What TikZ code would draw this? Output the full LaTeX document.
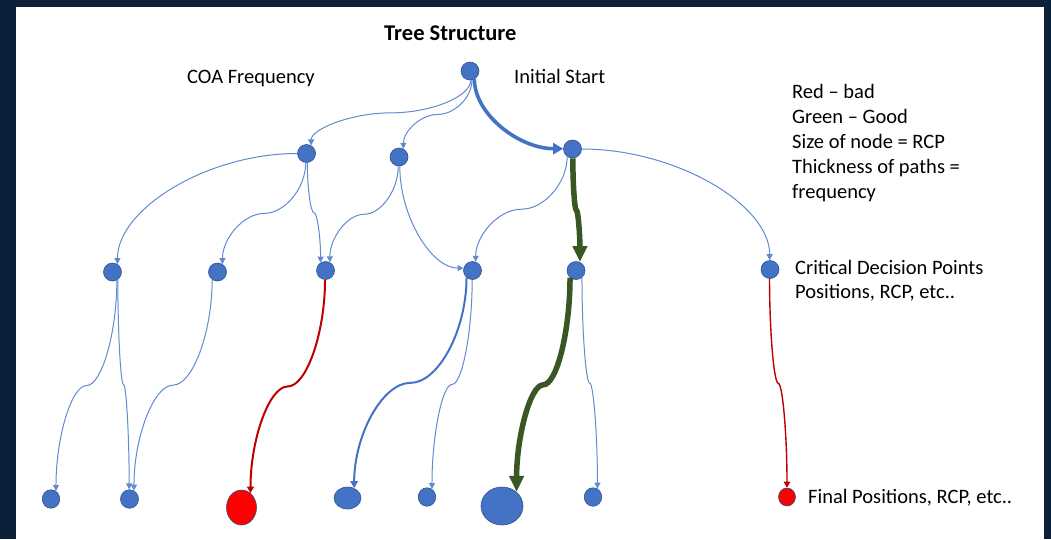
\documentclass[tikz,border=0pt]{standalone}
\usepackage{fontspec}
\setmainfont{Carlito}
\usetikzlibrary{calc,arrows.meta,shapes.geometric}

\definecolor{frame}{RGB}{12,33,57}
\definecolor{nodeblue}{RGB}{68,114,196}
\definecolor{nodeedge}{RGB}{47,82,143}
\definecolor{pathblue}{RGB}{68,114,196}
\definecolor{thinblue}{RGB}{98,138,208}
\definecolor{goodgreen}{RGB}{56,87,35}
\definecolor{badred}{RGB}{192,0,0}
\definecolor{badfill}{RGB}{255,0,0}

\tikzset{
  % S-shaped connector: leaves vertically, turns horizontal at a fraction #1 of the drop, arrives vertically
  scurve/.style={to path={let \p1=(\tikztostart), \p2=(\tikztotarget), \n1={#1} in
    .. controls (\x1,{\y1+0.5*\n1*(\y2-\y1)}) and ({0.75*\x1+0.25*\x2},{\y1+\n1*(\y2-\y1)})
    .. ({0.5*\x1+0.5*\x2},{\y1+\n1*(\y2-\y1)})
    .. controls ({0.25*\x1+0.75*\x2},{\y1+\n1*(\y2-\y1)}) and (\x2,{\y1+\n1*(\y2-\y1)+0.5*(1-\n1)*(\y2-\y1)})
    .. (\x2,\y2) \tikztonodes}},
  scurve/.default=0.5,
  % quarter bend: leaves vertically, arrives horizontally
  vh/.style={to path={let \p1=(\tikztostart), \p2=(\tikztotarget) in
    .. controls (\x1,{0.5*\y1+0.5*\y2}) and ({0.5*\x1+0.5*\x2},\y2) .. (\x2,\y2) \tikztonodes}},
  % quarter bend: leaves horizontally, arrives vertically
  hv/.style={to path={let \p1=(\tikztostart), \p2=(\tikztotarget) in
    .. controls ({0.5*\x1+0.5*\x2},\y1) and (\x2,{0.5*\y1+0.5*\y2}) .. (\x2,\y2) \tikztonodes}},
  dot/.style={circle,fill=nodeblue,draw=nodeedge,line width=0.6pt,minimum size=18pt,inner sep=0pt},
  blob/.style={ellipse,fill=nodeblue,draw=nodeedge,line width=0.6pt,inner sep=0pt},
  badblob/.style={blob,fill=badfill},
  thin/.style={draw=thinblue,line width=1pt,-{Triangle[length=6pt,width=6pt]}},
  medium/.style={draw=pathblue,line width=2pt,-{Triangle[length=7pt,width=7.5pt]}},
  heavy/.style={draw=pathblue,line width=3.6pt,-{Triangle[length=10pt,width=11pt]}},
  good/.style={draw=goodgreen,line width=5.5pt,-{Triangle[length=16pt,width=14pt]}},
  bad/.style={draw=badred,line width=2pt,-{Triangle[length=6.5pt,width=7pt]}},
  badthin/.style={draw=badred,line width=1.4pt,-{Triangle[length=6pt,width=6.5pt]}},
  lbl/.style={inner sep=0pt,font=\fontsize{20.5}{25}\selectfont,text=black},
}

\begin{document}
\begin{tikzpicture}[x=1pt,y=-1pt]
  % frame
  \fill[frame] (0,0) rectangle (1051,539);
  \fill[white] (16,7) rectangle (1044,539);
  \path[use as bounding box] (0,0) rectangle (1051,539);

  % labels
  \node[lbl,anchor=base west,font=\fontsize{22.5}{27}\bfseries] (title) at (384,40) {Tree Structure};
  \node[lbl,anchor=base west] (coa) at (187,83) {COA Frequency};
  \node[lbl,anchor=base west] (init) at (514,83) {Initial Start};
  \node[lbl,anchor=base west] (legend) at (792,98.3)
    {\begin{tabular}[t]{@{}l@{}}Red – bad\\Green – Good\\Size of node = RCP\\Thickness of paths =\\frequency\end{tabular}};
  \node[lbl,anchor=base west,font=\fontsize{20.5}{24}\selectfont] (cdp) at (795,274.3)
    {\begin{tabular}[t]{@{}l@{}}Critical Decision Points\\Positions, RCP, etc..\end{tabular}};
  \node[lbl,anchor=base west] (fin) at (808,503.3) {Final Positions, RCP, etc..};

  % tree nodes
  \node[dot] (Root) at (470,71) {};
  \node[dot] (A) at (306.5,153.5) {};
  \node[dot] (B) at (399,157) {};
  \node[dot] (C) at (572.5,149) {};
  \node[dot] (D1) at (112.5,272) {};
  \node[dot] (D2) at (217.5,272) {};
  \node[dot] (D3) at (325.5,270.5) {};
  \node[dot] (D4) at (472.5,270.5) {};
  \node[dot] (D5) at (576,270.5) {};
  \node[dot] (D6) at (770,269.5) {};
  \node[blob,minimum width=17.5pt,minimum height=18.5pt] (L1) at (51,499) {};
  \node[blob,minimum width=18pt,minimum height=18.5pt] (L2) at (129.5,499) {};
  \node[badblob,minimum width=30pt,minimum height=35pt] (L3) at (241.5,507.5) {};
  \node[blob,minimum width=27pt,minimum height=22pt] (L4) at (347.5,498) {};
  \node[blob,minimum width=17.5pt,minimum height=18.5pt] (L5) at (427,497) {};
  \node[blob,minimum width=42pt,minimum height=38pt] (L6) at (502,506) {};
  \node[blob,minimum width=17.5pt,minimum height=18.5pt] (L7) at (593,497) {};
  \node[badblob,minimum width=17pt,minimum height=18pt] (L8) at (787,497) {};

  % paths from the start
  \draw[thin] (Root.-85) to[scurve] (A.60);
  \draw[thin] (Root.-78) to[scurve] (B.62);
  \draw[heavy] (Root.-62) to[vh] (C.178);

  % paths to the critical decision points
  \draw[thin] (A.180) to[hv] (D1.58);
  \draw[thin] (A.-95) to[scurve] (D2.58);
  \draw[thin] (A.-85) to[scurve] (D3.122);
  \draw[thin] (B.-95) to[scurve] (D3.62);
  \draw[thin] (B.-85) to[vh] (D4.165);
  \draw[thin] (C.-125) to[scurve] (D4.70);
  \draw[good] (C.-88) to[scurve] (D5.65);
  \draw[thin] (C.0) to[hv] (D6.92);

  % paths to the final positions
  \draw[thin] (D1.-62) to[scurve] (L1.58);
  \draw[thin] (D1.-55) to[scurve] (L2.92);
  \draw[thin] (D2.-125) to[scurve] (L2.62);
  \draw[bad] (D3.-93) to[scurve] (L3.58);
  \draw[medium] (D4.-130) to[scurve] (L4.56);
  \draw[thin] (D4.-92) to[scurve] (L5.58);
  \draw[good] (D5.-130) to[scurve] (L6.44);
  \draw[thin] (D5.-50) to[scurve] (L7.62);
  \draw[badthin] (D6.-93) to[scurve] (L8.90);
\end{tikzpicture}
\end{document}
